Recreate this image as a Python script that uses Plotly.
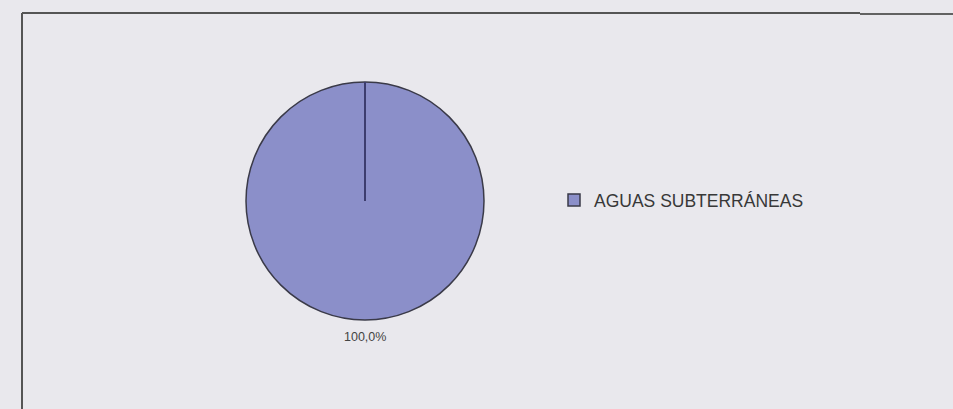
import plotly.graph_objects as go

# Data
labels = ["AGUAS SUBTERRÁNEAS"]
values = [100.0]

W, H = 953, 409
BG = "#e9e8ed"
FILL = "#8b8fc9"
FONT = "Liberation Sans, Arial, sans-serif"

# Pie placement (pixels converted to paper fractions)
cx, cy, r = 365, 201, 119
dom_x = [(cx - r) / W, (cx + r) / W]
dom_y = [1 - (cy + r) / H, 1 - (cy - r) / H]

fig = go.Figure(
    go.Pie(
        labels=labels,
        values=values,
        sort=False,
        direction="clockwise",
        rotation=0,
        domain=dict(x=dom_x, y=dom_y),
        marker=dict(colors=[FILL], line=dict(color="#3a3a48", width=1.5)),
        textinfo="none",
        hoverinfo="label+percent",
    )
)

# Percentage label centred under the pie
total = sum(values)
pct_text = [f"{v / total * 100:.1f}".replace(".", ",") + "%" for v in values]

mx = (dom_x[0] + dom_x[1]) / 2
my = (dom_y[0] + dom_y[1]) / 2
fig.add_annotation(
    x=mx, y=dom_y[0], xref="paper", yref="paper",
    xanchor="center", yanchor="top", yshift=-8,
    text=pct_text[0], showarrow=False,
    font=dict(family=FONT, size=12.5, color="#444444"),
)

shapes = [
    # slice boundary from the centre up to 12 o'clock
    dict(type="line", xref="paper", yref="paper", x0=mx, x1=mx, y0=my, y1=dom_y[1],
         line=dict(color="#3d3d6e", width=2)),
    # frame around the chart area
    dict(type="line", xref="paper", yref="paper", x0=22 / W, x1=860 / W,
         y0=1 - 13 / H, y1=1 - 13 / H, line=dict(color="#555555", width=2)),
    dict(type="line", xref="paper", yref="paper", x0=860 / W, x1=1,
         y0=1 - 14 / H, y1=1 - 14 / H, line=dict(color="#626262", width=2)),
    dict(type="line", xref="paper", yref="paper", x0=22 / W, x1=22 / W,
         y0=0, y1=1 - 13 / H, line=dict(color="#555555", width=2)),
]

fig.update_layout(
    width=W,
    height=H,
    margin=dict(l=0, r=0, t=0, b=0),
    paper_bgcolor=BG,
    plot_bgcolor=BG,
    shapes=shapes,
    showlegend=True,
    legend=dict(
        x=554 / W,
        y=1 - 200 / H,
        xanchor="left",
        yanchor="middle",
        bgcolor="rgba(0,0,0,0)",
        font=dict(family=FONT, size=17.5, color="#383838"),
        itemwidth=30,
    ),
)

fig.write_html("out.html")
